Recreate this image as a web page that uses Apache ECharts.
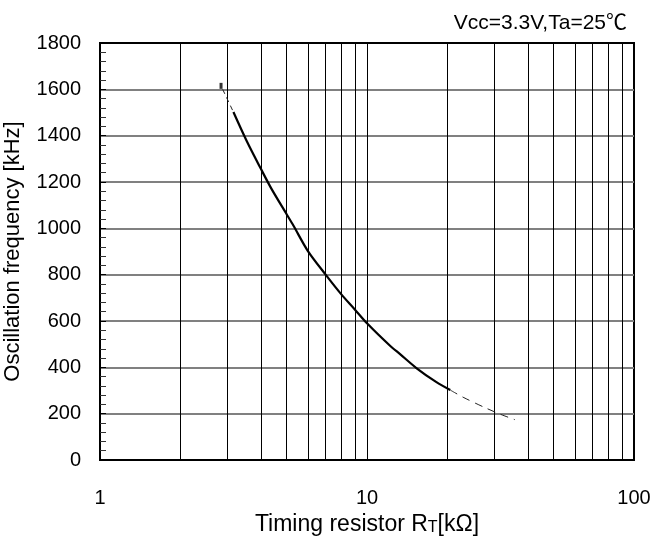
<!DOCTYPE html>
<html>
<head>
<meta charset="utf-8">
<script src="https://cdn.jsdelivr.net/npm/echarts@6/dist/echarts.min.js"></script>
<style>
  html, body { margin: 0; padding: 0; background: #fff; }
  #chart { width: 653px; height: 540px; }
</style>
</head>
<body>
<div id="chart"></div>
<script>
// 実線部分 (RT [kΩ] / 周波数 [kHz])
var rtSolid = [3.16, 3.54, 4.0, 4.4, 5.0, 5.3, 6, 7, 8, 9, 10, 12.2, 13.3, 15.35, 18.2, 20.5];
var freqSolid = [1502, 1378, 1258, 1168, 1061, 1012, 903, 800, 716, 650, 590, 493, 457, 396, 336, 302];
// 破線部分（上側・下側）
var rtDashHigh = [2.88, 3.16];
var freqDashHigh = [1600, 1502];
var rtDashLow = [20.5, 22.9, 27.3, 31.5, 35.8];
var freqDashLow = [302, 271, 229, 198, 174];
// 始点マーカー
var markPoint = [2.84, 1615];
// 対数軸の補助グリッド位置
var xGridValues = [2, 3, 4, 5, 6, 7, 8, 9, 20, 30, 40, 50, 60, 70, 80, 90];

var FONT = '"Liberation Sans", Arial, "Noto Sans CJK JP", sans-serif';

function zip(xs, ys) {
  return xs.map(function (x, i) { return [x, ys[i]]; });
}

var chart = echarts.init(document.getElementById('chart'), null, { renderer: 'canvas' });

chart.setOption({
  animation: false,
  title: {
    text: 'Vcc=3.3V,Ta=25℃',
    right: 21,
    top: 8,
    textStyle: { fontFamily: FONT, fontSize: 21, fontWeight: 'normal', color: '#000' }
  },
  grid: {
    left: 100,
    right: 19,
    top: 43,
    bottom: 80,
    outerBoundsMode: 'none',
    containLabel: false,
    show: true,
    borderColor: '#000',
    borderWidth: 2
  },
  xAxis: {
    type: 'log',
    logBase: 10,
    min: 1,
    max: 100,
    name: 'Timing resistor R{sub|T}[kΩ]',
    nameLocation: 'middle',
    nameGap: 52,
    nameTextStyle: {
      fontFamily: FONT, fontSize: 23, color: '#000',
      rich: { sub: { fontFamily: FONT, fontSize: 16, color: '#000', verticalAlign: 'bottom' } }
    },
    axisLine: { show: true, lineStyle: { color: '#000', width: 2 } },
    axisTick: { show: false },
    axisLabel: { fontFamily: FONT, fontSize: 20, color: '#000', margin: 28 },
    splitLine: { show: true, showMinLine: false, showMaxLine: false, lineStyle: { color: '#000', width: 1 } }
  },
  yAxis: {
    type: 'value',
    min: 0,
    max: 1800,
    interval: 200,
    name: 'Oscillation frequency [kHz]',
    nameLocation: 'middle',
    nameRotate: 90,
    nameGap: 76,
    nameTextStyle: { fontFamily: FONT, fontSize: 22, color: '#000' },
    axisLine: { show: true, lineStyle: { color: '#000', width: 2 } },
    axisTick: { show: true, inside: true, length: 6, lineStyle: { color: '#000' } },
    minorTick: { show: true, splitNumber: 5, length: 6, lineStyle: { color: '#333', width: 1 } },
    axisLabel: {
      fontFamily: FONT, fontSize: 20, color: '#000', margin: 19,
      formatter: function (v) { return String(v); }
    },
    splitLine: { show: true, showMinLine: false, showMaxLine: false, lineStyle: { color: '#808080', width: 2 } }
  },
  series: [
    {
      name: 'grid',
      type: 'line',
      data: [],
      silent: true,
      markLine: {
        silent: true,
        symbol: 'none',
        label: { show: false },
        lineStyle: { color: '#000', width: 1, type: 'solid' },
        data: xGridValues.map(function (v) { return { xAxis: v }; })
      }
    },
    {
      name: 'solid',
      type: 'line',
      data: zip(rtSolid, freqSolid),
      smooth: 0.3,
      showSymbol: false,
      lineStyle: { color: '#000', width: 2.2 },
      z: 5
    },
    {
      name: 'dashHigh',
      type: 'line',
      data: zip(rtDashHigh, freqDashHigh),
      showSymbol: false,
      lineStyle: { color: '#222', width: 1, type: [5, 4] },
      z: 5
    },
    {
      name: 'dashLow',
      type: 'line',
      data: zip(rtDashLow, freqDashLow),
      smooth: 0.3,
      showSymbol: false,
      lineStyle: { color: '#222', width: 1, type: [8, 6] },
      z: 5
    },
    {
      name: 'mark',
      type: 'scatter',
      data: [markPoint],
      symbol: 'rect',
      symbolSize: [3, 6],
      itemStyle: { color: '#000' },
      z: 6
    }
  ]
});
</script>
</body>
</html>
